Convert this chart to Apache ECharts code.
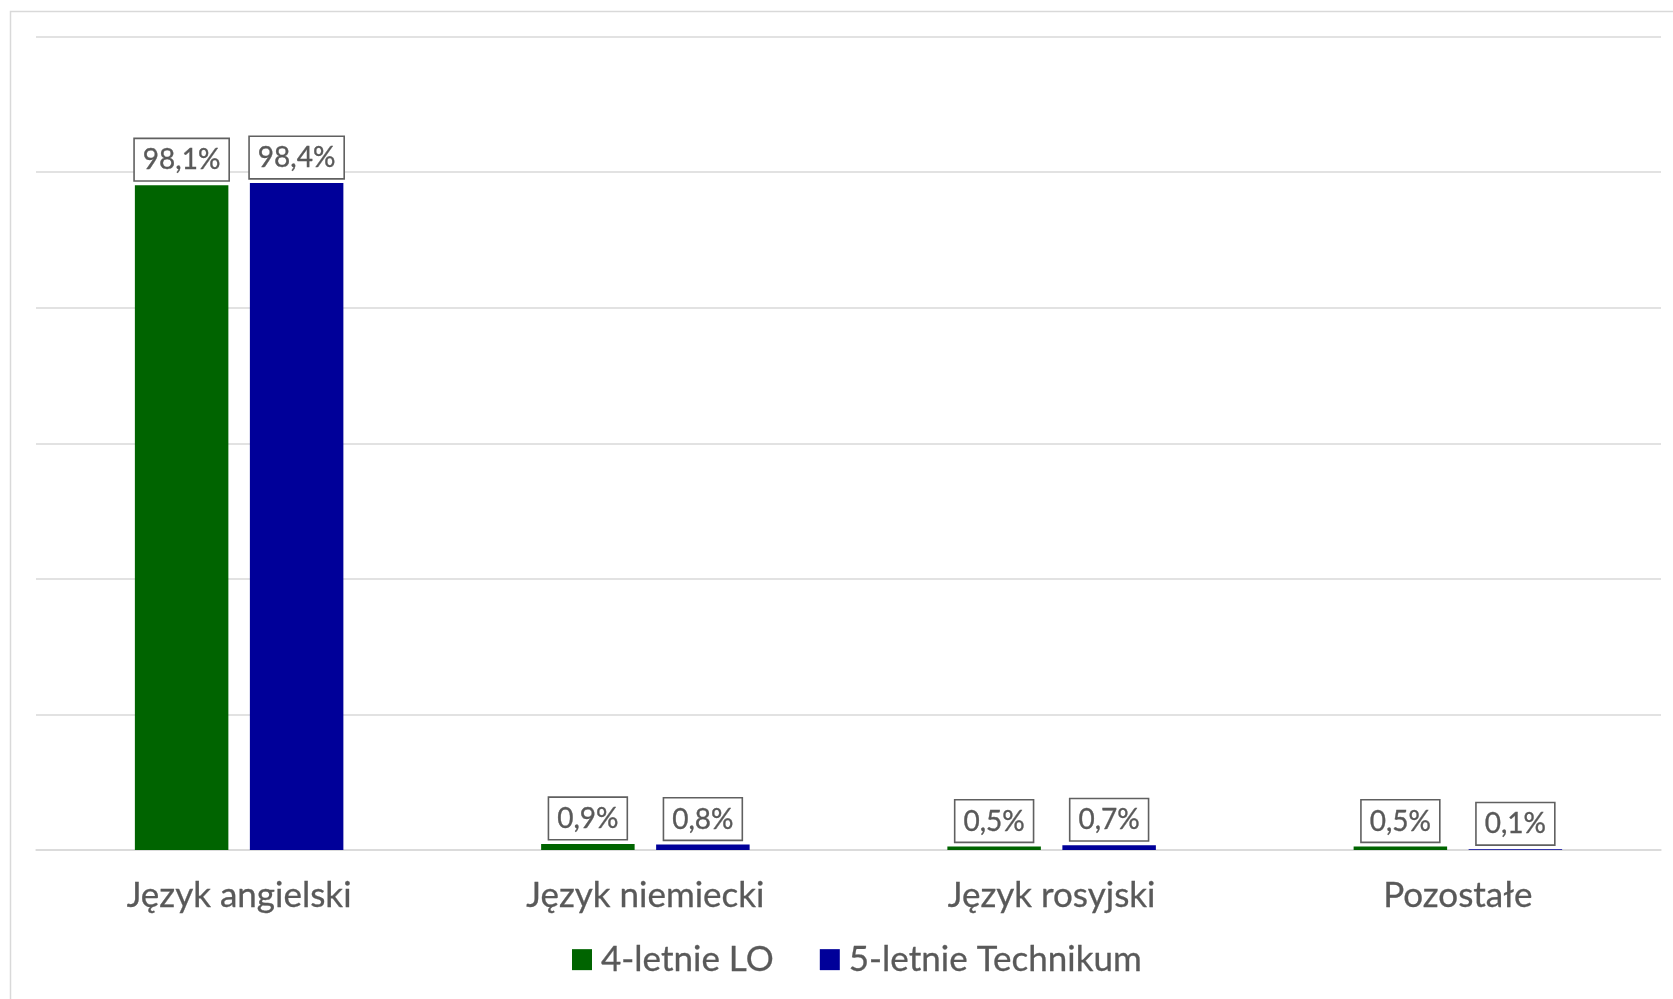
<!DOCTYPE html>
<html>
<head>
<meta charset="utf-8">
<script src="https://cdn.jsdelivr.net/npm/echarts@6/dist/echarts.min.js"></script>
<style>
html,body{margin:0;padding:0;background:#fff;}
#c{width:1673px;height:999px;}
</style>
</head>
<body>
<div id="c"></div>
<script>
const categories = ['Język angielski', 'Język niemiecki', 'Język rosyjski', 'Pozostałe'];
const seriesNames = ['4-letnie LO', '5-letnie Technikum'];
const loValues = [98.1, 0.9, 0.5, 0.5];
const techValues = [98.4, 0.8, 0.7, 0.1];
const colors = ['#006400', '#000099'];

const FONT = 'Lato';
const TXT = '#595959';

function fmt(p) {
  return p.value.toFixed(1).replace('.', ',') + '%';
}

const labelStyle = {
  show: true,
  position: 'top',
  distance: 5,
  formatter: fmt,
  fontFamily: FONT,
  fontSize: 28,
  lineHeight: 28,
  color: TXT,
  textBorderColor: TXT,
  textBorderWidth: 0.35,
  backgroundColor: '#ffffff',
  borderColor: '#606060',
  borderWidth: 1.6,
  padding: [7, 8, 6, 8]
};

const chart = echarts.init(document.getElementById('c'), null, {renderer: 'canvas'});
chart.setOption({
  animation: false,
  backgroundColor: '#ffffff',
  textStyle: {fontFamily: FONT},
  graphic: [{
    type: 'rect',
    left: 8, top: 9,
    shape: {width: 1700, height: 1100},
    style: {fill: 'none', stroke: '#d9d9d9', lineWidth: 1.5},
    silent: true,
    z: -1
  }],
  grid: {left: 36, right: 12, top: 36.7, bottom: 149, containLabel: false},
  legend: {
    data: seriesNames,
    left: 567,
    top: 937,
    icon: 'rect',
    itemWidth: 20,
    itemHeight: 21,
    itemGap: 46,
    textStyle: {fontFamily: FONT, fontSize: 35, lineHeight: 35, color: TXT,
      textBorderColor: TXT, textBorderWidth: 0.3, padding: [0, 0, 0, 4]}
  },
  xAxis: {
    type: 'category',
    data: categories,
    axisLine: {show: true, lineStyle: {color: '#d9d9d9', width: 1.5}},
    axisTick: {show: false},
    axisLabel: {fontFamily: FONT, fontSize: 35, lineHeight: 42, color: TXT,
      textBorderColor: TXT, textBorderWidth: 0.3, margin: 25}
  },
  yAxis: {
    type: 'value',
    min: 0,
    max: 120,
    interval: 20,
    axisLabel: {show: false},
    axisLine: {show: false},
    axisTick: {show: false},
    splitLine: {show: true, lineStyle: {color: '#d9d9d9', width: 1.5}}
  },
  series: [
    {
      name: seriesNames[0],
      type: 'bar',
      data: loValues,
      barWidth: 93.5,
      barGap: '23%',
      itemStyle: {color: colors[0]},
      label: labelStyle
    },
    {
      name: seriesNames[1],
      type: 'bar',
      data: techValues,
      barWidth: 93.5,
      barGap: '23%',
      itemStyle: {color: colors[1]},
      label: labelStyle
    }
  ]
});
</script>
</body>
</html>
